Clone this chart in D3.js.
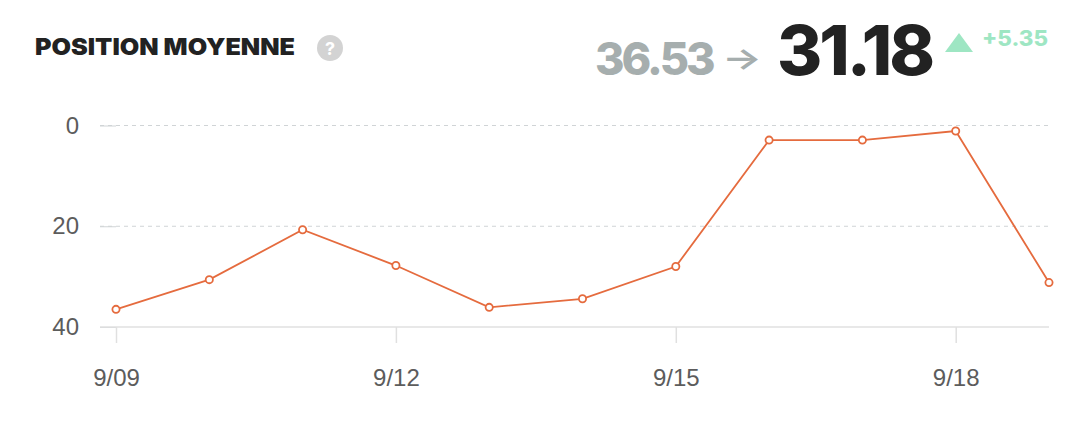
<!doctype html>
<html>
<head>
  <meta charset="utf-8">
  <title>Position moyenne</title>
  <style>
  body { margin: 0; background: #fff; }
  #vis { width: 1082px; height: 432px; }
  </style>
</head>
<body>
  <div id="vis"></div>
  <script src="https://d3js.org/d3.v7.min.js"></script>
  <script>
  // data
  var dates = ['2018-09-09', '2018-09-10', '2018-09-11', '2018-09-12', '2018-09-13',
               '2018-09-14', '2018-09-15', '2018-09-16', '2018-09-17', '2018-09-18', '2018-09-19'];
  var positions = [36.5, 30.6, 20.7, 27.8, 36.1, 34.4, 28.0, 2.9, 2.9, 1.1, 31.18];
  var yTicks = [0, 20, 40];
  var xTickDates = ['2018-09-09', '2018-09-12', '2018-09-15', '2018-09-18'];
  var title = 'POSITION MOYENNE';
  var before = '36.53', after = '31.18', delta = '+5.35';

  var width = 1082, height = 432;
  var headFont = 'Inter, Lato, sans-serif';
  var axisFont = 'Helvetica, Arial, "Liberation Sans", sans-serif';
  var parse = d3.timeParse('%Y-%m-%d');
  var data = dates.map(function(d, i){ return { date: parse(d), value: positions[i] }; });

  var svg = d3.select('#vis').append('svg')
    .attr('width', width)
    .attr('height', height);

  var x = d3.scaleTime()
    .domain(d3.extent(data, function(d){ return d.date; }))
    .range([116, 1049]);
  var y = d3.scaleLinear().domain([0, 40]).range([125.5, 327]);

  // grid lines
  svg.append('g').selectAll('line').data(yTicks.slice(0, 2)).enter().append('line')
    .attr('x1', 100).attr('x2', 1049)
    .attr('y1', function(d){ return y(d); })
    .attr('y2', function(d){ return y(d); })
    .attr('stroke', '#d0d4d6')
    .attr('stroke-dasharray', '4,4');

  // y axis
  var yAxis = svg.append('g')
    .attr('transform', 'translate(116,0)')
    .call(d3.axisLeft(y).tickValues(yTicks).tickSize(16).tickPadding(21).tickFormat(d3.format('d')));
  yAxis.select('.domain').remove();
  yAxis.selectAll('line').attr('stroke', '#d0d4d6');
  yAxis.selectAll('text').attr('fill', '#5c5c5c').style('font-size', '24px').style('font-family', axisFont);

  // x axis
  var xAxis = svg.append('g')
    .attr('transform', 'translate(0,' + y(40) + ')')
    .call(d3.axisBottom(x).tickValues(xTickDates.map(parse)).tickSize(16).tickPadding(26)
      .tickFormat(function(d){ return (d.getMonth() + 1) + '/' + d3.timeFormat('%d')(d); }));
  xAxis.select('.domain').attr('d', 'M100,0H1049').attr('stroke', '#e0e0e0').attr('stroke-width', 1.5);
  xAxis.selectAll('line').attr('stroke', '#e0e0e0').attr('stroke-width', 1.5);
  xAxis.selectAll('text').attr('fill', '#5c5c5c').style('font-size', '24px').style('font-family', axisFont);

  // line
  var line = d3.line()
    .x(function(d){ return x(d.date); })
    .y(function(d){ return y(d.value); });
  svg.append('path').datum(data)
    .attr('d', line)
    .attr('fill', 'none')
    .attr('stroke', '#e56b3e')
    .attr('stroke-width', 1.8);
  svg.append('g').selectAll('circle').data(data).enter().append('circle')
    .attr('cx', function(d){ return x(d.date); })
    .attr('cy', function(d){ return y(d.value); })
    .attr('r', 3.6)
    .attr('fill', '#fff')
    .attr('stroke', '#e56b3e')
    .attr('stroke-width', 1.8);

  // header
  svg.append('text')
    .attr('x', 35).attr('y', 55)
    .style('font-family', headFont).style('font-size', '23px').style('font-weight', 900)
    .attr('fill', '#222')
    .attr('textLength', 260).attr('lengthAdjust', 'spacingAndGlyphs')
    .text(title);
  svg.append('circle').attr('cx', 330).attr('cy', 48).attr('r', 13).attr('fill', '#d3d3d3');
  svg.append('text').attr('x', 330).attr('y', 55).attr('text-anchor', 'middle')
    .style('font-family', headFont).style('font-size', '18px').style('font-weight', 700)
    .attr('fill', '#fff').text('?');

  svg.append('text')
    .attr('x', 595).attr('y', 75)
    .style('font-family', headFont).style('font-size', '45px').style('font-weight', 800)
    .style('letter-spacing', '-3px')
    .attr('fill', '#a6aeae')
    .text(before);
  svg.append('text')
    .attr('x', 722).attr('y', 69)
    .style('font-family', headFont).style('font-size', '30px').style('font-weight', 600)
    .attr('fill', '#a6aeae')
    .attr('textLength', 40).attr('lengthAdjust', 'spacingAndGlyphs')
    .text('\u2192');
  svg.append('text')
    .attr('x', 777).attr('y', 75)
    .style('font-family', headFont).style('font-size', '69px').style('font-weight', 800)
    .style('letter-spacing', '-3px')
    .attr('fill', '#222')
    .text(after);
  svg.append('path')
    .attr('d', 'M945,52L959,33L973,52Z')
    .attr('fill', '#9ee6c3');
  svg.append('text')
    .attr('x', 982).attr('y', 46)
    .style('font-family', headFont).style('font-size', '21px').style('font-weight', 800)
    .attr('fill', '#9ee6c3')
    .attr('textLength', 66).attr('lengthAdjust', 'spacingAndGlyphs')
    .text(delta);
  </script>
</body>
</html>
